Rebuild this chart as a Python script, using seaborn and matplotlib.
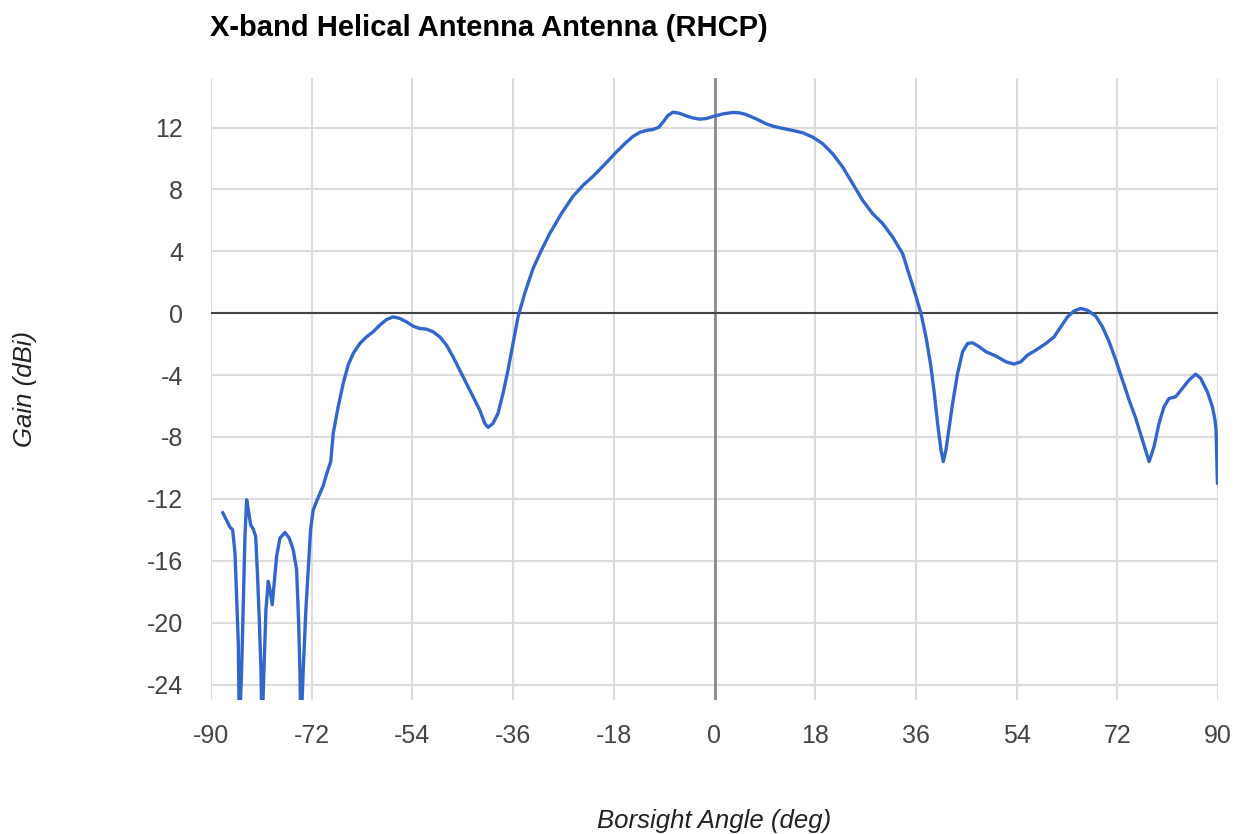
import numpy as np
import pandas as pd
import matplotlib
matplotlib.use("Agg")
import matplotlib.pyplot as plt
import seaborn as sns

angle = [-87.92, -87.2, -86.61, -86.13, -85.71, -85.42, -85.12, -84.94, -84.52, -84.23,
         -83.93, -83.63, -83.33, -82.92, -82.44, -82.02, -81.73, -81.37, -81.07, -80.89,
         -80.54, -80.18, -79.76, -79.46, -79.05, -78.75, -78.27, -77.68, -76.79, -76.01,
         -75.3, -74.7, -74.35, -74.11, -73.93, -73.51, -73.04, -72.62, -72.2, -71.73,
         -70.83, -69.94, -69.34, -68.6, -68.15, -67.26, -66.37, -65.48, -64.58, -63.39,
         -62.2, -61.01, -59.82, -58.63, -57.44, -56.25, -55.06, -53.87, -52.68, -51.49,
         -50.3, -49.11, -47.92, -46.73, -45.54, -44.35, -43.15, -41.96, -41.07, -40.48,
         -39.58, -38.69, -37.8, -36.91, -36.01, -35.12, -33.93, -32.44, -30.95, -29.46,
         -27.38, -25.3, -23.51, -21.73, -19.64, -17.56, -15.77, -14.58, -13.39, -12.2,
         -11.01, -9.94, -9.23, -8.33, -7.44, -6.25, -5.06, -3.87, -2.68, -1.49,
         -0.3, 1.49, 3.27, 4.46, 5.65, 7.44, 9.23, 10.42, 12.2, 13.99,
         15.77, 17.56, 19.35, 21.13, 22.92, 24.7, 26.49, 28.27, 30.06, 31.85,
         33.63, 35.12, 36.0, 36.91, 37.8, 38.69, 39.29, 39.88, 40.48, 40.89,
         41.37, 41.96, 42.56, 43.45, 44.35, 45.24, 46.13, 47.32, 48.51, 50.3,
         52.08, 53.57, 54.76, 55.95, 57.44, 59.23, 60.71, 61.9, 63.1, 64.29,
         65.48, 66.67, 68.15, 69.35, 70.54, 71.73, 72.92, 74.11, 75.3, 76.49,
         77.68, 78.57, 79.46, 80.36, 81.25, 82.44, 83.63, 84.82, 86.01, 86.9,
         88.1, 88.99, 89.46, 89.65, 89.9]
gain = [-12.88, -13.4, -13.83, -14.0, -15.5, -18.3, -21.3, -27.0, -23.03, -18.73,
        -14.43, -12.06, -12.71, -13.68, -13.96, -14.43, -16.58, -19.81, -23.03, -27.0,
        -23.03, -19.16, -17.33, -17.87, -18.84, -17.66, -15.72, -14.54, -14.17, -14.54,
        -15.29, -16.58, -19.81, -23.03, -27.0, -23.03, -19.16, -16.58, -14.0, -12.71,
        -11.9, -11.15, -10.4, -9.6, -7.76, -6.04, -4.54, -3.35, -2.6, -1.96,
        -1.53, -1.2, -0.77, -0.41, -0.24, -0.34, -0.56, -0.84, -0.99, -1.03,
        -1.2, -1.53, -2.06, -2.82, -3.68, -4.54, -5.4, -6.26, -7.12, -7.38,
        -7.12, -6.47, -5.18, -3.68, -1.96, -0.24, 1.27, 2.88, 4.06, 5.14,
        6.43, 7.55, 8.26, 8.84, 9.61, 10.41, 11.05, 11.42, 11.68, 11.81,
        11.87, 12.02, 12.34, 12.77, 12.99, 12.92, 12.75, 12.62, 12.54, 12.58,
        12.71, 12.88, 12.97, 12.95, 12.84, 12.56, 12.24, 12.09, 11.94, 11.81,
        11.66, 11.38, 10.95, 10.3, 9.44, 8.37, 7.29, 6.43, 5.79, 4.92,
        3.85, 2.13, 1.1, -0.02, -1.53, -3.46, -5.18, -7.12, -8.84, -9.59,
        -8.84, -7.33, -5.83, -3.89, -2.49, -1.96, -1.91, -2.17, -2.49, -2.77,
        -3.14, -3.29, -3.14, -2.71, -2.39, -1.96, -1.53, -0.88, -0.24, 0.15,
        0.3, 0.19, -0.19, -0.88, -1.85, -3.03, -4.32, -5.61, -6.8, -8.19,
        -9.59, -8.62, -7.12, -6.04, -5.51, -5.4, -4.86, -4.32, -3.94, -4.21,
        -5.08, -6.04, -6.9, -7.55, -11.0]

x_ticks = [-90, -72, -54, -36, -18, 0, 18, 36, 54, 72, 90]
y_ticks = [12, 8, 4, 0, -4, -8, -12, -16, -20, -24]

df = pd.DataFrame({"angle": angle, "gain": gain})

sns.set_theme(style="white")
plt.rcParams['font.family'] = ['Liberation Sans', 'DejaVu Sans']

fig = plt.figure(figsize=(12.42, 8.34), dpi=100)
ax = fig.add_axes([211 / 1242, 1 - 700 / 834, 1007 / 1242, 622 / 834])

for t in x_ticks:
    ax.axvline(t, color="#dcdcdc", lw=1.5, zorder=0)
for t in y_ticks:
    ax.axhline(t, color="#dcdcdc", lw=1.5, zorder=0)
ax.axvline(0, color="#8a8a8a", lw=2.0, zorder=1)
ax.axhline(0, color="#444444", lw=1.5, zorder=1)

sns.lineplot(data=df, x="angle", y="gain", ax=ax, color="#3366cc", lw=2.4,
             sort=False, estimator=None, zorder=3)
for ln in ax.lines[-1:]:
    ln.set_solid_joinstyle("round")
    ln.set_solid_capstyle("round")

ax.set_xlim(-90, 90)
ax.set_ylim(-25, 15.2)
ax.set_xticks(x_ticks)
ax.set_yticks(y_ticks)
ax.set_xticklabels([str(t) for t in x_ticks])
ax.set_yticklabels([str(t) for t in y_ticks])
ax.tick_params(axis="both", length=0, labelsize=18, colors="#444444")
ax.tick_params(axis="x", pad=17)
ax.tick_params(axis="y", pad=20)
for s in ax.spines.values():
    s.set_visible(False)

ax.set_xlabel("Borsight Angle (deg)", fontsize=18.5, style="italic", color="#222222")
ax.set_ylabel("Gain (dBi)", fontsize=18.5, style="italic", color="#222222")
ax.xaxis.label.set_va("baseline")
ax.xaxis.set_label_coords(0.5, -128 / 622)
ax.yaxis.label.set_va("center")
ax.yaxis.set_label_coords(-186 / 1007, 0.5)

fig.text(210 / 1242, 1 - 36 / 834, "X-band Helical Antenna Antenna (RHCP)", fontsize=21,
         fontweight="bold", color="#000000", ha="left", va="baseline")

fig.savefig("out.png", dpi=100)
